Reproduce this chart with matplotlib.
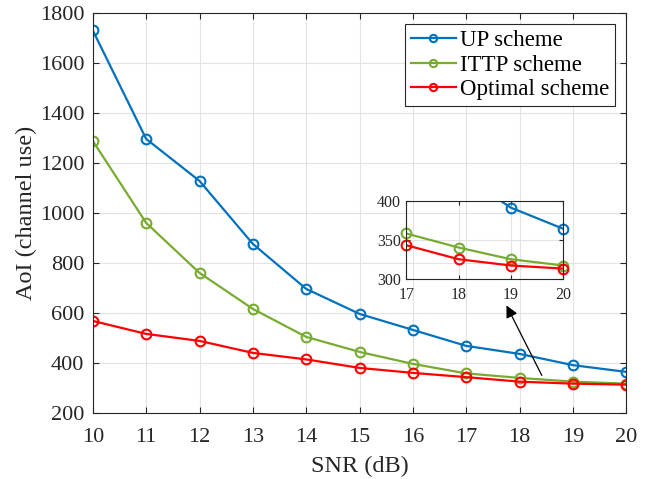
import matplotlib.pyplot as plt
import numpy as np

plt.rcParams["font.family"] = ["Liberation Serif", "DejaVu Serif"]
plt.rcParams["mathtext.fontset"] = "stix"

snr = [10, 11, 12, 13, 14, 15, 16, 17, 18, 19, 20]
up_scheme = [1730, 1296, 1128, 876, 696, 596, 532, 468, 436, 391, 364]
ittp_scheme = [1288, 960, 760, 616, 504, 444, 396, 358, 340, 325, 317]
optimal_scheme = [568, 516, 488, 440, 414, 380, 360, 343, 325, 317, 313]

BLUE = "#0072BD"
GREEN = "#77AC30"
RED = "#FF0000"

series = [
    ("UP scheme", up_scheme, BLUE),
    ("ITTP scheme", ittp_scheme, GREEN),
    ("Optimal scheme", optimal_scheme, RED),
]


def style_axes(ax, labelsize):
    ax.grid(True, color="#e3e3e3", linewidth=0.8)
    ax.set_axisbelow(True)
    ax.tick_params(direction="in", top=True, right=True, labelsize=labelsize,
                   length=4, color="#262626", labelcolor="#262626")
    for sp in ax.spines.values():
        sp.set_color("#262626")
        sp.set_linewidth(0.8)


fig = plt.figure(figsize=(6.49, 4.79), dpi=100)
ax = fig.add_axes([0.143, 0.138, 0.822, 0.835])
for name, vals, color in series:
    ax.plot(snr, vals, "-o", color=color, label=name, linewidth=1.6,
            markersize=7, markerfacecolor="none", markeredgewidth=1.5)
ax.set_xlim(10, 20)
ax.set_ylim(200, 1800)
ax.set_xticks(np.arange(10, 21, 1))
ax.set_yticks(np.arange(200, 1801, 200))
ax.set_xlabel("SNR (dB)", fontsize=17.5, labelpad=6, color="#262626")
ax.set_ylabel("AoI (channel use)", fontsize=17.5, labelpad=2, color="#262626")
style_axes(ax, 16)
ax.tick_params(axis="x", pad=11)
ax.tick_params(axis="y", pad=6)
leg = ax.legend(loc="upper right", fontsize=16.5, fancybox=False,
                edgecolor="#262626", framealpha=1, borderpad=0.25,
                labelspacing=0.15, handlelength=2.0, handletextpad=0.15,
                borderaxespad=0.5, markerscale=0.75)
leg.get_frame().set_linewidth(0.8)

# zoomed inset: lines clipped, markers kept whole when their centre is inside
ins = fig.add_axes([0.626, 0.418, 0.242, 0.163])
ins.patch.set_alpha(0)
ins.set_xlim(17, 20)
ins.set_ylim(300, 400)
for name, vals, color in series:
    ins.plot(snr, vals, "-", color=color, linewidth=1.6)
    x = np.array(snr)
    y = np.array(vals)
    keep = (x >= 17) & (x <= 20) & (y >= 300) & (y <= 400)
    ins.plot(x[keep], y[keep], "o", color=color, markersize=7,
             markerfacecolor="none", markeredgewidth=1.5, clip_on=False)
ins.set_xticks([17, 18, 19, 20])
ins.set_yticks([300, 350, 400])
style_axes(ins, 11.5)
ins.tick_params(length=3, pad=6)
ins.tick_params(axis="y", pad=4)

ax.annotate("", xy=(17.73, 640), xytext=(18.44, 340),
            arrowprops=dict(arrowstyle="-|>", color="black", linewidth=0.9,
                            mutation_scale=18))

fig.savefig("out.png", dpi=100)
